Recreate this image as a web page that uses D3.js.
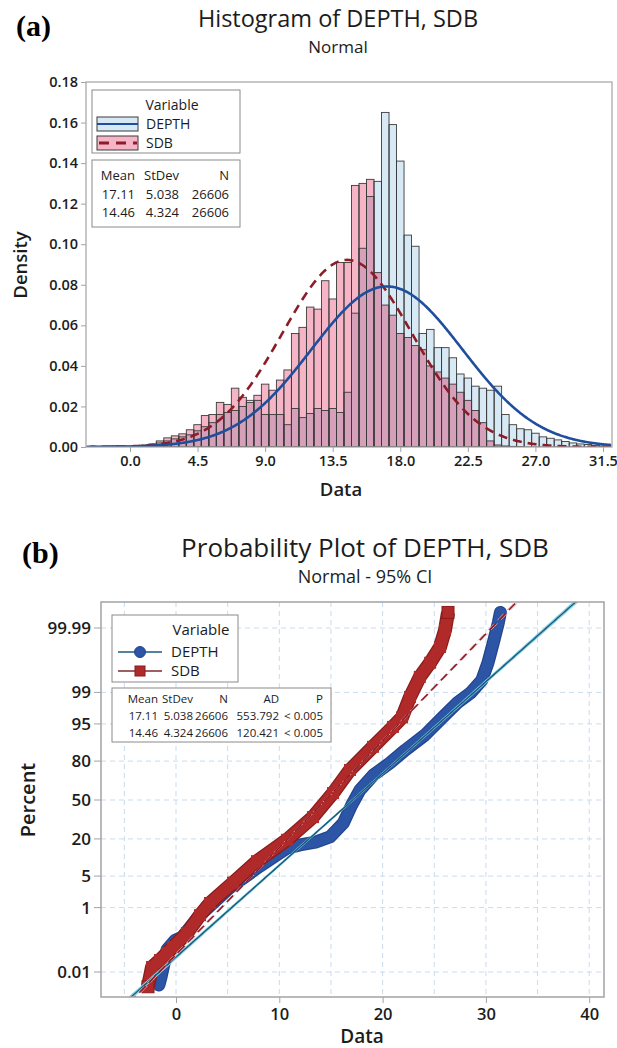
<!DOCTYPE html>
<html>
<head>
<meta charset="utf-8">
<script src="https://cdn.jsdelivr.net/npm/d3@7"></script>
<style>
  body { margin: 0; background: #fff; }
  svg { display: block; font-family: "Open Sans", "Noto Sans", sans-serif; }
</style>
</head>
<body>
<svg id="fig" width="617" height="1048"></svg>
<script>
// ---------- Histogram data (bin width 0.5, density scale) ----------
const binCenters = [-2.5,-2.0,-1.5,-1.0,-0.5,0.0,0.5,1.0,1.5,2.0,2.5,3.0,3.5,4.0,4.5,5.0,5.5,6.0,6.5,7.0,7.5,8.0,8.5,9.0,9.5,10.0,10.5,11.0,11.5,12.0,12.5,13.0,13.5,14.0,14.5,15.0,15.5,16.0,16.5,17.0,17.5,18.0,18.5,19.0,19.5,20.0,20.5,21.0,21.5,22.0,22.5,23.0,23.5,24.0,24.5,25.0,25.5,26.0,26.5,27.0,27.5,28.0,28.5,29.0,29.5,30.0,30.5,31.0,31.5];
const binWidth = 0.5;
const depthDensity = [0.0003,0.0003,0.0003,0.0003,0.0003,0.0004,0.0005,0.0008,0.001,0.002,0.003,0.004,0.005,0.006,0.008,0.010,0.012,0.016,0.017,0.018,0.020,0.023,0.023,0.016,0.016,0.016,0.011,0.019,0.0145,0.0165,0.019,0.018,0.019,0.017,0.027,0.066,0.098,0.1235,0.131,0.165,0.159,0.141,0.1045,0.099,0.056,0.058,0.049,0.049,0.044,0.036,0.034,0.030,0.029,0.028,0.030,0.016,0.011,0.009,0.0085,0.0068,0.005,0.0043,0.0035,0.0027,0.002,0.0015,0.0012,0.0008,0.0005];
const sdbDensity = [0.0003,0.0003,0.0004,0.0006,0.0003,0.0003,0.0005,0.001,0.0015,0.003,0.0045,0.0055,0.0065,0.0085,0.011,0.0155,0.016,0.022,0.021,0.029,0.0245,0.022,0.0255,0.031,0.028,0.033,0.038,0.056,0.059,0.069,0.068,0.082,0.073,0.091,0.091,0.129,0.130,0.132,0.086,0.070,0.065,0.056,0.054,0.050,0.048,0.040,0.037,0.034,0.031,0.027,0.023,0.018,0.012,0.003,0.001,0.0005,0.0003,0.0002,0,0,0,0,0,0,0,0,0,0,0];

const densityTicks = [0,0.02,0.04,0.06,0.08,0.10,0.12,0.14,0.16,0.18];
const dataTicksA = [0.0,4.5,9.0,13.5,18.0,22.5,27.0,31.5];

// ---------- Summary statistics ----------
const seriesNames = ["DEPTH","SDB"];
const means = [17.11, 14.46];
const stdevs = [5.038, 4.324];
const counts = [26606, 26606];
const adValues = ["553.792", "120.421"];
const pValues = ["< 0.005", "< 0.005"];

// ---------- Probability plot data (data value, cumulative percent) ----------
const depthProbX = [-1.65,-1.45,-0.87,-0.10,0.58,2.32,5.2,8.1,10.75,12.0,13.5,14.9,16.2,17.0,17.8,19.1,20.7,22.2,24.1,25.75,27.2,28.5,29.6,30.2,30.7,31.2,31.4];
const depthProbP = [0.0032,0.0064,0.06,0.12,0.15,0.64,2.9,7.6,14.9,16.6,18.1,21.2,30.9,45.6,58.5,70.5,78.8,86.0,92.0,96.2,98.2,98.96,99.52,99.85,99.965,99.9936,99.9975];
const sdbProbX = [-2.71,-2.32,-1.55,-0.87,-0.29,1.06,2.32,3.29,5.52,7.84,10.75,13.26,15.2,16.84,19.07,21.0,21.88,22.65,23.6,24.6,25.56,26.04,26.33];
const sdbProbP = [0.0027,0.0153,0.027,0.047,0.074,0.2,0.64,1.3,3.7,9.3,19.5,35.6,56.0,74.2,87.5,94.3,96.3,98.7,99.61,99.85,99.953,99.988,99.9975];

const percentTicks = [0.01,1,5,20,50,80,95,99,99.99];
const percentLabels = ["0.01","1","5","20","50","80","95","99","99.99"];
const dataTicksB = [0,10,20,30,40];
const gridXB = [-5,0,5,10,15,20,25,30,35,40];

// ---------- Colours ----------
const depthFill = "#d8e9f6", sdbFill = "#f6b5c7", overlapFill = "#d6a0bb";
const barEdge = "#3b3b3b";
const depthLine = "#1f4f9c", sdbLine = "#8c1c28";
const depthMark = "#2d55a5", depthMarkEdge = "#22458f";
const sdbMark = "#b02a2a", sdbMarkEdge = "#8a1c1c";
const frameCol = "#a3a3a3", textCol = "#1c1c1c";

// inverse standard normal CDF (Acklam)
function probit(p) {
  const a = [-3.969683028665376e+01, 2.209460984245205e+02, -2.759285104469687e+02, 1.383577518672690e+02, -3.066479806614716e+01, 2.506628277459239e+00];
  const b = [-5.447609879822406e+01, 1.615858368580409e+02, -1.556989798598866e+02, 6.680131188771972e+01, -1.328068155288572e+01];
  const c = [-7.784894002430293e-03, -3.223964580411365e-01, -2.400758277161838e+00, -2.549732539343734e+00, 4.374664141464968e+00, 2.938163982698783e+00];
  const d = [7.784695709041462e-03, 3.224671290700398e-01, 2.445134137142996e+00, 3.754408661907416e+00];
  const pl = 0.02425, ph = 1 - pl;
  let q, r;
  if (p < pl) {
    q = Math.sqrt(-2 * Math.log(p));
    return (((((c[0]*q+c[1])*q+c[2])*q+c[3])*q+c[4])*q+c[5]) / ((((d[0]*q+d[1])*q+d[2])*q+d[3])*q+1);
  }
  if (p <= ph) {
    q = p - 0.5; r = q * q;
    return (((((a[0]*r+a[1])*r+a[2])*r+a[3])*r+a[4])*r+a[5])*q / (((((b[0]*r+b[1])*r+b[2])*r+b[3])*r+b[4])*r+1);
  }
  q = Math.sqrt(-2 * Math.log(1 - p));
  return -(((((c[0]*q+c[1])*q+c[2])*q+c[3])*q+c[4])*q+c[5]) / ((((d[0]*q+d[1])*q+d[2])*q+d[3])*q+1);
}
const normPdf = (x, m, s) => Math.exp(-0.5 * ((x - m) / s) ** 2) / (s * Math.sqrt(2 * Math.PI));

const svg = d3.select("#fig");

// =====================================================================
// Panel (a): histogram with fitted normal curves
// =====================================================================
const A = { left: 86, right: 612, top: 82, bottom: 447 };
const xA = d3.scaleLinear().domain([-2.93, 32.1]).range([A.left, A.right]);
const yA = d3.scaleLinear().domain([0, 0.18]).range([A.bottom, A.top]);

svg.append("text").attr("x", 16).attr("y", 36)
  .attr("font-family", "'Liberation Serif', serif").attr("font-weight", "bold")
  .attr("font-size", 30).attr("fill", "#000").text("(a)");
svg.append("text").attr("x", 338).attr("y", 27).attr("text-anchor", "middle")
  .attr("font-size", 23.5).attr("fill", textCol).text("Histogram of DEPTH, SDB");
svg.append("text").attr("x", 338).attr("y", 53).attr("text-anchor", "middle")
  .attr("font-size", 17).attr("fill", textCol).text("Normal");

const gA = svg.append("g");
gA.append("defs").append("clipPath").attr("id", "clipA")
  .append("rect").attr("x", A.left).attr("y", A.top - 2)
  .attr("width", A.right - A.left).attr("height", A.bottom - A.top + 2);

const bins = binCenters.map((c, i) => ({ c, d: depthDensity[i], s: sdbDensity[i] }));
const bx0 = b => xA(b.c - binWidth / 2);
const bw = b => xA(b.c + binWidth / 2) - xA(b.c - binWidth / 2);

const barsG = gA.append("g").attr("clip-path", "url(#clipA)");
// fills: DEPTH, SDB, then their overlap
barsG.append("g").selectAll("rect").data(bins.filter(b => b.d > 0)).join("rect")
  .attr("x", bx0).attr("width", bw).attr("y", b => yA(b.d)).attr("height", b => yA(0) - yA(b.d))
  .attr("fill", depthFill);
barsG.append("g").selectAll("rect").data(bins.filter(b => b.s > 0)).join("rect")
  .attr("x", bx0).attr("width", bw).attr("y", b => yA(b.s)).attr("height", b => yA(0) - yA(b.s))
  .attr("fill", sdbFill);
barsG.append("g").selectAll("rect").data(bins.filter(b => Math.min(b.d, b.s) > 0)).join("rect")
  .attr("x", bx0).attr("width", bw).attr("y", b => yA(Math.min(b.d, b.s)))
  .attr("height", b => yA(0) - yA(Math.min(b.d, b.s)))
  .attr("fill", overlapFill);
// bar outlines for both series
["d", "s"].forEach(k => {
  barsG.append("g").selectAll("rect").data(bins.filter(b => b[k] > 0)).join("rect")
    .attr("x", bx0).attr("width", bw).attr("y", b => yA(b[k])).attr("height", b => yA(0) - yA(b[k]))
    .attr("fill", "none").attr("stroke", barEdge).attr("stroke-width", 0.9);
});

// fitted normal curves
const curveXs = d3.range(-2.9, 32.1, 0.05);
const lineA = d3.line().x(d => xA(d[0])).y(d => yA(d[1]));
barsG.append("path")
  .attr("d", lineA(curveXs.map(x => [x, normPdf(x, means[1], stdevs[1])])))
  .attr("fill", "none").attr("stroke", sdbLine).attr("stroke-width", 2.6)
  .attr("stroke-dasharray", "9,6");
barsG.append("path")
  .attr("d", lineA(curveXs.map(x => [x, normPdf(x, means[0], stdevs[0])])))
  .attr("fill", "none").attr("stroke", depthLine).attr("stroke-width", 2.6);

// frame
gA.append("rect").attr("x", A.left).attr("y", A.top).attr("width", A.right - A.left)
  .attr("height", A.bottom - A.top).attr("fill", "none").attr("stroke", frameCol).attr("stroke-width", 1.2);

// axes
const axA_y = gA.append("g").attr("transform", `translate(${A.left},0)`)
  .call(d3.axisLeft(yA).tickValues(densityTicks).tickFormat(d3.format(".2f")).tickSize(5).tickPadding(3));
const axA_x = gA.append("g").attr("transform", `translate(0,${A.bottom})`)
  .call(d3.axisBottom(xA).tickValues(dataTicksA).tickFormat(d3.format(".1f")).tickSize(5).tickPadding(4));
[axA_y, axA_x].forEach(ax => {
  ax.select(".domain").remove();
  ax.selectAll(".tick line").attr("stroke", frameCol);
  ax.selectAll(".tick text").attr("font-family", "'Open Sans', sans-serif")
    .attr("font-size", 14.5).attr("font-weight", 600).attr("fill", textCol);
});

gA.append("text").attr("transform", "translate(27,265) rotate(-90)").attr("text-anchor", "middle")
  .attr("font-size", 18.5).attr("font-weight", 600).attr("fill", textCol).text("Density");
gA.append("text").attr("x", 341).attr("y", 496).attr("text-anchor", "middle")
  .attr("font-size", 18.5).attr("font-weight", 600).attr("fill", textCol).text("Data");

// legend (a)
const legA = gA.append("g");
legA.append("rect").attr("x", 92).attr("y", 90).attr("width", 148).attr("height", 63)
  .attr("fill", "#fff").attr("stroke", "#8a8a8a");
legA.append("text").attr("x", 172).attr("y", 110).attr("text-anchor", "middle")
  .attr("font-size", 14).attr("fill", textCol).text("Variable");
legA.append("rect").attr("x", 97).attr("y", 117).attr("width", 41).attr("height", 14)
  .attr("fill", depthFill).attr("stroke", barEdge);
legA.append("line").attr("x1", 97).attr("x2", 138).attr("y1", 124).attr("y2", 124)
  .attr("stroke", depthLine).attr("stroke-width", 2);
legA.append("text").attr("x", 146).attr("y", 129).attr("font-size", 14).attr("fill", textCol).text(seriesNames[0]);
legA.append("rect").attr("x", 97).attr("y", 136).attr("width", 41).attr("height", 14)
  .attr("fill", sdbFill).attr("stroke", barEdge);
legA.append("line").attr("x1", 99).attr("x2", 137).attr("y1", 143).attr("y2", 143)
  .attr("stroke", sdbLine).attr("stroke-width", 3).attr("stroke-dasharray", "10,7");
legA.append("text").attr("x", 146).attr("y", 148).attr("font-size", 14).attr("fill", textCol).text(seriesNames[1]);

legA.append("rect").attr("x", 92).attr("y", 160).attr("width", 148).attr("height", 67)
  .attr("fill", "#fff").attr("stroke", "#8a8a8a");
const colA = [{ h: "Mean", r: 135 }, { h: "StDev", r: 179 }, { h: "N", r: 229 }];
colA.forEach(c => legA.append("text").attr("x", c.r).attr("y", 180).attr("text-anchor", "end")
  .attr("font-size", 13).attr("fill", textCol).text(c.h));
means.forEach((m, i) => {
  const yy = 199 + i * 18;
  const vals = [m.toFixed(2), stdevs[i].toFixed(3), String(counts[i])];
  vals.forEach((v, j) => legA.append("text").attr("x", colA[j].r).attr("y", yy)
    .attr("text-anchor", "end").attr("font-size", 13).attr("fill", textCol).text(v));
});

// =====================================================================
// Panel (b): normal probability plot with 95% CI
// =====================================================================
const B = { left: 101, right: 604, top: 602, bottom: 997 };
const xB = d3.scaleLinear().domain([-7.26, 41.43]).range([B.left, B.right]);
const zB = d3.scaleLinear().domain([-4.259, 4.281]).range([B.bottom, B.top]);
const yB = p => zB(probit(p / 100));

svg.append("text").attr("x", 22).attr("y", 563)
  .attr("font-family", "'Liberation Serif', serif").attr("font-weight", "bold")
  .attr("font-size", 30).attr("fill", "#000").text("(b)");
svg.append("text").attr("x", 365).attr("y", 557).attr("text-anchor", "middle")
  .attr("font-size", 26).attr("fill", textCol).text("Probability Plot of DEPTH, SDB");
svg.append("text").attr("x", 365).attr("y", 583).attr("text-anchor", "middle")
  .attr("font-size", 18).attr("fill", textCol).text("Normal - 95% CI");

const gB = svg.append("g");
gB.append("defs").append("clipPath").attr("id", "clipB")
  .append("rect").attr("x", B.left).attr("y", B.top)
  .attr("width", B.right - B.left).attr("height", B.bottom - B.top);

// gridlines
const gridB = gB.append("g").attr("stroke", "#c9dbef").attr("stroke-width", 1).attr("stroke-dasharray", "5,4");
gridB.selectAll("line.v").data(gridXB).join("line")
  .attr("x1", d => xB(d)).attr("x2", d => xB(d)).attr("y1", B.top).attr("y2", B.bottom);
gridB.selectAll("line.h").data(percentTicks).join("line")
  .attr("x1", B.left).attr("x2", B.right).attr("y1", d => yB(d)).attr("y2", d => yB(d));

const plotB = gB.append("g").attr("clip-path", "url(#clipB)");
const lineB = d3.line().x(d => xB(d[0])).y(d => yB(d[1]));

const depthPts = depthProbX.map((x, i) => [x, depthProbP[i]]);
const sdbPts = sdbProbX.map((x, i) => [x, sdbProbP[i]]);

// DEPTH: overlapping circle markers form a thick band
plotB.append("path").attr("d", lineB(depthPts)).attr("fill", "none")
  .attr("stroke", depthMarkEdge).attr("stroke-width", 13).attr("stroke-linejoin", "round").attr("stroke-linecap", "round");
plotB.append("path").attr("d", lineB(depthPts)).attr("fill", "none")
  .attr("stroke", depthMark).attr("stroke-width", 10.5).attr("stroke-linejoin", "round").attr("stroke-linecap", "round");
plotB.selectAll("circle.dep").data(depthPts).join("circle")
  .attr("cx", d => xB(d[0])).attr("cy", d => yB(d[1])).attr("r", 5.5)
  .attr("fill", depthMark);

// SDB: overlapping square markers
plotB.append("path").attr("d", lineB(sdbPts)).attr("fill", "none")
  .attr("stroke", sdbMarkEdge).attr("stroke-width", 14).attr("stroke-linejoin", "round").attr("stroke-linecap", "butt");
plotB.append("path").attr("d", lineB(sdbPts)).attr("fill", "none")
  .attr("stroke", sdbMark).attr("stroke-width", 11.5).attr("stroke-linejoin", "round").attr("stroke-linecap", "butt");
plotB.selectAll("rect.sdb").data(sdbPts).join("rect")
  .attr("x", d => xB(d[0]) - 6).attr("y", d => yB(d[1]) - 6).attr("width", 12).attr("height", 12)
  .attr("fill", sdbMark).attr("stroke", (d, i) => (i === 0 || i === sdbPts.length - 1) ? sdbMarkEdge : "none");

// fitted lines with 95% confidence bounds
const zs = d3.range(-4.6, 4.61, 0.05);
function fitPts(i, k) {
  const m = means[i], s = stdevs[i], n = counts[i];
  return zs.map(z => {
    const se = s * Math.sqrt(1 / n + z * z / (2 * (n - 1)));
    return [xB(m + s * z + k * 1.96 * se), zB(z)];
  });
}
const rawLine = d3.line();
[-1, 1].forEach(k => plotB.append("path").attr("d", rawLine(fitPts(0, k))).attr("fill", "none")
  .attr("stroke", "#7fd2e6").attr("stroke-width", 1.2));
plotB.append("path").attr("d", rawLine(fitPts(0, 0))).attr("fill", "none")
  .attr("stroke", "#1a5878").attr("stroke-width", 1.4);
[-1, 1].forEach(k => plotB.append("path").attr("d", rawLine(fitPts(1, k))).attr("fill", "none")
  .attr("stroke", "#e9a8b0").attr("stroke-width", 1).attr("stroke-dasharray", "9,5"));
plotB.append("path").attr("d", rawLine(fitPts(1, 0))).attr("fill", "none")
  .attr("stroke", sdbLine).attr("stroke-width", 1.5).attr("stroke-dasharray", "9,5");

// frame
gB.append("rect").attr("x", B.left).attr("y", B.top).attr("width", B.right - B.left)
  .attr("height", B.bottom - B.top).attr("fill", "none").attr("stroke", frameCol).attr("stroke-width", 1.5);

// y axis (percent)
const yAxB = gB.append("g");
percentTicks.forEach((p, i) => {
  yAxB.append("line").attr("x1", B.left - 7).attr("x2", B.left).attr("y1", yB(p)).attr("y2", yB(p))
    .attr("stroke", frameCol);
  yAxB.append("text").attr("x", B.left - 10).attr("y", yB(p)).attr("dy", "0.35em")
    .attr("text-anchor", "end").attr("font-size", 17).attr("font-weight", 600).attr("fill", textCol)
    .text(percentLabels[i]);
});
// x axis
const axB_x = gB.append("g").attr("transform", `translate(0,${B.bottom})`)
  .call(d3.axisBottom(xB).tickValues(dataTicksB).tickFormat(d3.format("d")).tickSize(6).tickPadding(5));
axB_x.select(".domain").remove();
axB_x.selectAll(".tick line").attr("stroke", frameCol);
axB_x.selectAll(".tick text").attr("font-family", "'Open Sans', sans-serif")
  .attr("font-size", 16.5).attr("font-weight", 600).attr("fill", textCol);

gB.append("text").attr("transform", "translate(35,800) rotate(-90)").attr("text-anchor", "middle")
  .attr("font-size", 20).attr("font-weight", 600).attr("fill", textCol).text("Percent");
gB.append("text").attr("x", 362).attr("y", 1043).attr("text-anchor", "middle")
  .attr("font-size", 19).attr("font-weight", 600).attr("fill", textCol).text("Data");

// legend (b)
const legB = gB.append("g");
legB.append("rect").attr("x", 112).attr("y", 615).attr("width", 126).attr("height", 67)
  .attr("fill", "#fff").attr("stroke", "#8a8a8a");
legB.append("text").attr("x", 201).attr("y", 635).attr("text-anchor", "middle")
  .attr("font-size", 15).attr("fill", textCol).text("Variable");
legB.append("line").attr("x1", 118).attr("x2", 162).attr("y1", 652).attr("y2", 652)
  .attr("stroke", "#1a5878").attr("stroke-width", 1.3);
legB.append("circle").attr("cx", 140).attr("cy", 652).attr("r", 5.5)
  .attr("fill", depthMark).attr("stroke", depthMarkEdge);
legB.append("text").attr("x", 171).attr("y", 657).attr("font-size", 15).attr("fill", textCol).text(seriesNames[0]);
legB.append("line").attr("x1", 118).attr("x2", 162).attr("y1", 671).attr("y2", 671)
  .attr("stroke", "#7a2a30").attr("stroke-width", 1.3);
legB.append("rect").attr("x", 135).attr("y", 666).attr("width", 10).attr("height", 10)
  .attr("fill", sdbMark).attr("stroke", sdbMarkEdge);
legB.append("text").attr("x", 171).attr("y", 676).attr("font-size", 15).attr("fill", textCol).text(seriesNames[1]);

legB.append("rect").attr("x", 112).attr("y", 688).attr("width", 219).attr("height", 54)
  .attr("fill", "#fff").attr("stroke", "#8a8a8a");
const colB = [{ h: "Mean", r: 158 }, { h: "StDev", r: 193 }, { h: "N", r: 228 }, { h: "AD", r: 279 }, { h: "P", r: 323 }];
colB.forEach(c => legB.append("text").attr("x", c.r).attr("y", 703).attr("text-anchor", "end")
  .attr("font-size", 11.5).attr("fill", textCol).text(c.h));
means.forEach((m, i) => {
  const yy = 720 + i * 17;
  const vals = [m.toFixed(2), stdevs[i].toFixed(3), String(counts[i]), adValues[i], pValues[i]];
  vals.forEach((v, j) => legB.append("text").attr("x", colB[j].r).attr("y", yy)
    .attr("text-anchor", "end").attr("font-size", 11.5).attr("fill", textCol).text(v));
});
</script>
</body>
</html>
